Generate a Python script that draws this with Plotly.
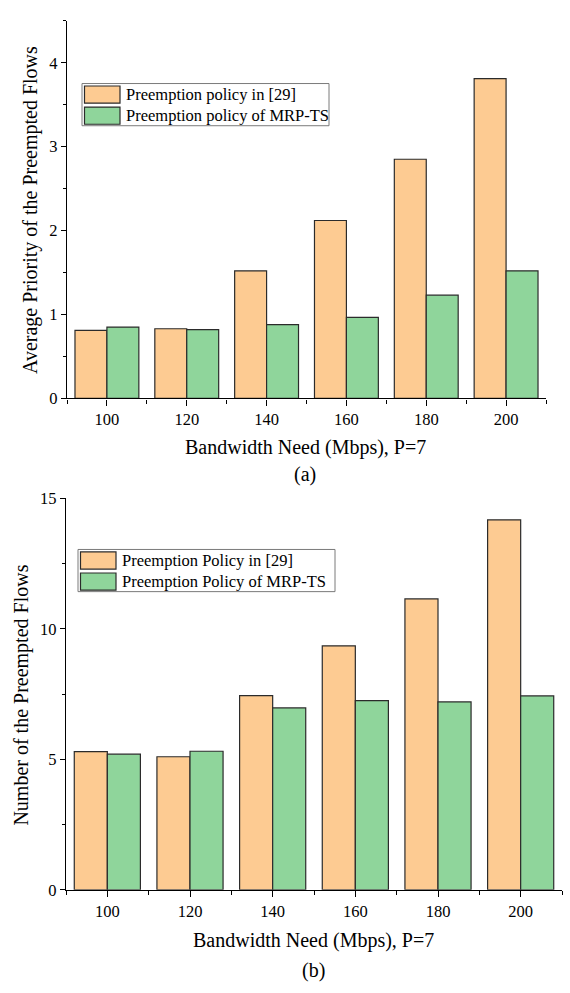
import plotly.graph_objects as go

# Bandwidth need (Mbps) for both panels
bandwidth = [100, 120, 140, 160, 180, 200]

# Panel (a): average priority of the preempted flows
avg_priority_ref29 = [0.81, 0.83, 1.52, 2.12, 2.85, 3.81]
avg_priority_mrpts = [0.85, 0.82, 0.88, 0.965, 1.23, 1.52]

# Panel (b): number of the preempted flows
num_flows_ref29 = [5.30, 5.10, 7.44, 9.35, 11.15, 14.18]
num_flows_mrpts = [5.20, 5.31, 6.97, 7.25, 7.20, 7.43]

legend_a = ["Preemption policy in [29]", "Preemption policy of MRP-TS"]
legend_b = ["Preemption Policy in [29]", "Preemption Policy of MRP-TS"]
x_title = "Bandwidth Need (Mbps), P=7"
y_title_a = "Average Priority of the Preempted Flows"
y_title_b = "Number of the Preempted Flows"

W, H = 570, 993
ORANGE = "#FDCB92"
GREEN = "#8FD59B"
EDGE = "#2b2b2b"
FONT = "Liberation Serif"


def px(x):
    return x / W


def py(y):
    return 1 - y / H


fig = go.Figure()

for xa, ya, s1, s2 in [("x", "y", avg_priority_ref29, avg_priority_mrpts),
                       ("x2", "y2", num_flows_ref29, num_flows_mrpts)]:
    fig.add_trace(go.Bar(x=bandwidth, y=s1, xaxis=xa, yaxis=ya,
                         marker=dict(color=ORANGE, line=dict(color=EDGE, width=1.2)),
                         showlegend=False))
    fig.add_trace(go.Bar(x=bandwidth, y=s2, xaxis=xa, yaxis=ya,
                         marker=dict(color=GREEN, line=dict(color=EDGE, width=1.2)),
                         showlegend=False))

axis_common = dict(showline=True, linecolor="black", linewidth=1.3, showgrid=False,
                   zeroline=False, ticks="outside", tickcolor="black", tickwidth=1.3,
                   tickfont=dict(family=FONT, size=16.5, color="black"))

xaxis_common = dict(axis_common, range=[90, 210], tickvals=bandwidth, ticklen=6,
                    minor=dict(tick0=90, dtick=20, ticks="outside", ticklen=4,
                               tickcolor="black", tickwidth=1.3))

fig.update_layout(
    width=W, height=H,
    margin=dict(l=0, r=0, t=0, b=0),
    paper_bgcolor="white", plot_bgcolor="white",
    barmode="group", bargap=0.2, bargroupgap=0,
    font=dict(family=FONT, color="black"),
    xaxis=dict(xaxis_common, domain=[px(67), px(546)], anchor="y"),
    yaxis=dict(axis_common, domain=[py(397), py(12)], anchor="x", range=[0, 4.5],
               tickvals=[0, 1, 2, 3, 4], ticklen=5,
               minor=dict(dtick=0.5, ticks="outside", ticklen=3,
                          tickcolor="black", tickwidth=1.3)),
    xaxis2=dict(xaxis_common, domain=[px(66), px(562)], anchor="y2"),
    yaxis2=dict(axis_common, domain=[py(898), py(499)], anchor="x2", range=[0, 15],
                tickvals=[0, 5, 10, 15], ticklen=5,
                minor=dict(dtick=2.5, ticks="outside", ticklen=3,
                           tickcolor="black", tickwidth=1.3)),
)

annotations = []
shapes = []


def text(x, y, s, size, angle=0, xanchor="center"):
    annotations.append(dict(x=px(x), y=py(y), xref="paper", yref="paper", text=s,
                            showarrow=False, textangle=angle, xanchor=xanchor,
                            yanchor="middle",
                            font=dict(family=FONT, size=size, color="black")))


def rect(x0, y0, x1, y1, fill, line_color, lw):
    shapes.append(dict(type="rect", xref="paper", yref="paper",
                       x0=px(x0), x1=px(x1), y0=py(y1), y1=py(y0),
                       fillcolor=fill, line=dict(color=line_color, width=lw)))


# Axis titles and panel captions
text(305, 447, x_title, 20)
text(305, 475, "(a)", 20)
text(30, 205, y_title_a, 20, angle=-90)
text(313, 950, x_title, 20)
text(313, 980, "(b)", 20)
text(22, 700, y_title_b, 20, angle=-90)

# Legend boxes with swatches
for (bx0, by0, bx1, by1, labels, size) in [
        (82, 76, 329, 119, legend_a, 16.5),
        (78, 551, 335, 594, legend_b, 16.5)]:
    rect(bx0, by0, bx1, by1, "white", "#7a7a7a", 1)
    row_h = (by1 - by0) / 2
    for i, (lab, col) in enumerate(zip(labels, [ORANGE, GREEN])):
        ry0 = by0 + 2.5 + i * row_h
        rect(bx0 + 2.5, ry0, bx0 + 38, ry0 + row_h - 4, col, EDGE, 1.2)
        text(bx0 + 42, by0 + row_h * (i + 0.5) + 0.5, lab, size, xanchor="left")

fig.update_layout(annotations=annotations, shapes=shapes)

fig.write_html("out.html")
